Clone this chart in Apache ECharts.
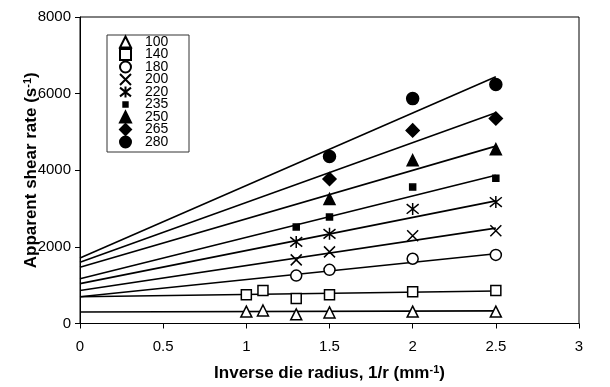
<!DOCTYPE html>
<html><head><meta charset="utf-8">
<script src="https://cdn.jsdelivr.net/npm/echarts@6/dist/echarts.min.js"></script>
<style>html,body{margin:0;padding:0;background:#fff}#c{width:610px;height:387px}</style>
</head><body><div id="c"></div><script>
// Series names (temperatures)
const seriesNames = ['100','140','180','200','220','235','250','265','280'];
// Measured points: x = 1/r (mm^-1), y = apparent shear rate (s^-1)
const x100 = [1, 1.1, 1.3, 1.5, 2, 2.5];
const y100 = [310, 340, 240, 290, 310, 310];
const x140 = [1, 1.1, 1.3, 1.5, 2, 2.5];
const y140 = [750, 860, 650, 750, 830, 860];
const x180 = [1.3, 1.5, 2, 2.5];
const y180 = [1250, 1400, 1690, 1790];
const x200 = [1.3, 1.5, 2, 2.5];
const y200 = [1660, 1870, 2290, 2420];
const x220 = [1.3, 1.5, 2, 2.5];
const y220 = [2130, 2340, 2990, 3170];
const x235 = [1.3, 1.5, 2, 2.5];
const y235 = [2520, 2780, 3560, 3790];
const x250 = [1.5, 2, 2.5];
const y250 = [3250, 4260, 4550];
const x265 = [1.5, 2, 2.5];
const y265 = [3770, 5040, 5350];
const x280 = [1.5, 2, 2.5];
const y280 = [4360, 5870, 6240];
// Linear trend lines: value at x = lineX0 and x = lineX1
const lineX0 = 0, lineX1 = 2.5;
const lineStart = [300, 700, 700, 860, 1040, 1170, 1470, 1600, 1710];
const lineEnd   = [330, 850, 1820, 2490, 3200, 3870, 4630, 5500, 6440];
// Axis ticks
const xTicks = {min: 0, max: 3, interval: 0.5};
const yTicks = {min: 0, max: 8000, interval: 2000};

const xs = [x100,x140,x180,x200,x220,x235,x250,x265,x280];
const ys = [y100,y140,y180,y200,y220,y235,y250,y265,y280];

const P_X = 'path://M0,0L10,10M10,0L0,10';
const P_AST = 'path://M0,1L10,9M10,1L0,9M5,0L5,10';
const P_SMALLSQ_LEGEND = 'path://M0,0M3,3L7,3L7,7L3,7ZM10,10';
const styles = [
  {symbol:'triangle', size:11, fill:'#fff'},
  {symbol:'rect', size:10, fill:'#fff'},
  {symbol:'circle', size:11, fill:'#fff'},
  {symbol:P_X, size:11, fill:'#000'},
  {symbol:P_AST, size:12, fill:'#000'},
  {symbol:'rect', size:6, fill:'#000', legendIcon:P_SMALLSQ_LEGEND},
  {symbol:'triangle', size:11, fill:'#000'},
  {symbol:'diamond', size:13, fill:'#000'},
  {symbol:'circle', size:12, fill:'#000'}
];

const series = [];
seriesNames.forEach((n, i) => {
  series.push({
    type:'line', silent:true, symbol:'none', z:2,
    data:[[lineX0, lineStart[i]], [lineX1, lineEnd[i]]],
    lineStyle:{color:'#000', width:1.6}
  });
});
seriesNames.forEach((n, i) => {
  const st = styles[i];
  series.push({
    name:n, type:'scatter', z:3,
    symbol:st.symbol, symbolSize:st.size,
    data: xs[i].map((x, k) => [x, ys[i][k]]),
    itemStyle:{color:st.fill, borderColor:'#000', borderWidth:1.5, opacity:1}
  });
});

const chart = echarts.init(document.getElementById('c'), null, {renderer:'canvas'});
const font = '"Liberation Sans", Arial, sans-serif';
chart.setOption({
  animation:false,
  backgroundColor:'#fff',
  textStyle:{fontFamily:font},
  grid:{left:80, right:31, top:17, bottom:62, show:true, borderColor:'#000', borderWidth:1, containLabel:false},
  legend:{
    orient:'vertical', left:107, top:35,
    data: seriesNames.map((n,i) => ({name:n, icon: styles[i].legendIcon || styles[i].symbol})),
    itemWidth:11, itemHeight:11, itemGap:-1.5,
    borderColor:'#333', borderWidth:1, padding:[0,6,3,12],
    textStyle:{fontFamily:font, fontSize:14, color:'#000', lineHeight:12, width:38, padding:[0,0,0,9]},
    selectedMode:false
  },
  xAxis:{
    type:'value', min:xTicks.min, max:xTicks.max, interval:xTicks.interval,
    axisLine:{show:true, lineStyle:{color:'#000', width:1}},
    axisTick:{show:true, inside:false, length:5, lineStyle:{color:'#000'}},
    splitLine:{show:false},
    axisLabel:{color:'#000', fontSize:15, margin:16, fontFamily:font},
    name:'Inverse die radius, 1/r (mm{sup|-1})', nameLocation:'middle', nameGap:41, nameMoveOverlap:false,
    nameTextStyle:{fontFamily:font, fontSize:17, fontWeight:'bold', color:'#000',
      rich:{sup:{fontFamily:font, fontSize:11, fontWeight:'bold', color:'#000', verticalAlign:'top', padding:[0,0,7,0]}}}
  },
  yAxis:{
    type:'value', min:yTicks.min, max:yTicks.max, interval:yTicks.interval,
    axisLine:{show:true, lineStyle:{color:'#000', width:1}},
    axisTick:{show:true, inside:false, length:5, lineStyle:{color:'#000'}},
    splitLine:{show:false},
    axisLabel:{color:'#000', fontSize:15, margin:9, fontFamily:font, formatter: v => String(v)},
    name:'Apparent shear rate (s{sup|-1})', nameLocation:'middle', nameGap:40, nameRotate:90, nameMoveOverlap:false,
    nameTextStyle:{fontFamily:font, fontSize:17, fontWeight:'bold', color:'#000',
      rich:{sup:{fontFamily:font, fontSize:11, fontWeight:'bold', color:'#000', verticalAlign:'top', padding:[0,0,7,0]}}}
  },
  series: series
});
</script></body></html>
